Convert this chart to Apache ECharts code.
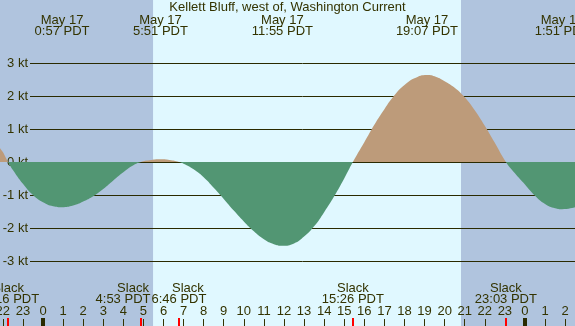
<!DOCTYPE html>
<html>
<head>
<meta charset="utf-8">
<title>Kellett Bluff, west of, Washington Current</title>
<script src="https://cdn.jsdelivr.net/npm/echarts@6/dist/echarts.min.js"></script>
<style>
  html, body { margin: 0; padding: 0; background: #b0c4de; }
  #chart { width: 575px; height: 326px; }
</style>
</head>
<body>
<div id="chart"></div>
<script>
// hours counted from midnight May 17 (negative = May 16, over 24 = May 18)
const hours = [-2.14, -2, -1.74, -1.5, -1, -0.5, 0, 0.5, 0.95, 1.5, 2, 2.5, 3, 3.5, 4, 4.5, 4.88,
  5.3, 5.85, 6.3, 6.77, 7, 7.5, 8, 8.5, 9, 9.5, 10, 10.5, 11, 11.5, 11.92, 12.5, 13, 13.5, 14, 14.5,
  15, 15.43, 16, 16.5, 17, 17.5, 18, 18.5, 19.12, 19.5, 20, 20.5, 21, 21.5, 22, 22.5, 23.05,
  23.5, 24, 24.5, 25, 25.5, 25.85, 26.5];
// current in knots (flood +, ebb -)
const knots = [0.42, 0.3, 0, -0.24, -0.66, -1.0, -1.22, -1.34, -1.37, -1.32, -1.2, -1.04, -0.82, -0.56, -0.31, -0.1, 0,
  0.05, 0.08, 0.06, 0, -0.05, -0.22, -0.46, -0.78, -1.12, -1.47, -1.8, -2.1, -2.34, -2.49, -2.54, -2.47, -2.26, -1.95, -1.52, -1.04,
  -0.5, 0, 0.6, 1.13, 1.6, 2.02, 2.33, 2.54, 2.64, 2.6, 2.45, 2.25, 1.96, 1.57, 1.1, 0.58, 0,
  -0.34, -0.68, -1.02, -1.27, -1.4, -1.43, -1.37];

// max / min current times
const peakHours = [0.95, 5.85, 11.92, 19.12, 25.85];
const peakDates = ['May 17', 'May 17', 'May 17', 'May 17', 'May 18'];
const peakTimes = ['0:57', '5:51', '11:55', '19:07', '1:51'];

// slack water
const slackHours = [-1.74, 4.88, 6.77, 15.43, 23.05];
const slackTimes = ['22:16', '4:53', '6:46', '15:26', '23:03'];

// midnights
const midnights = [0, 24];

// daylight: sunrise 5:29, sunset 20:49
const bands = [[-3, 5.48, 0], [5.48, 20.82, 1], [20.82, 27, 0]];

const nightColor = '#b0c4de';
const dayColor = '#e0f8ff';
const floodColor = '#bd9b7a';
const ebbColor = '#529673';
const textColor = '#333300';
const font = 'Liberation Sans, Arial, sans-serif';
const fontSize = 13;

const chart = echarts.init(document.getElementById('chart'));

function textEl(x, y, text) {
  return {
    type: 'text', x: x, y: y,
    style: { text: text, fill: textColor, fontFamily: font, fontSize: fontSize, align: 'center', verticalAlign: 'middle' }
  };
}

// label nudges so the 4:53 / 6:46 slack labels do not collide
const slackNudge = [[0, 0], [-8, -18], [9, 0], [0, 0], [0, 0]];

const option = {
  animation: false,
  title: {
    text: 'Kellett Bluff, west of, Washington Current',
    left: 'center', top: 1, padding: 0,
    textStyle: { color: textColor, fontFamily: font, fontSize: fontSize, fontWeight: 'normal' }
  },
  grid: [
    { left: -17.24, right: -10.2, top: -3, bottom: -1, outerBoundsMode: 'none' },
    { left: 30, right: 0, top: 63, bottom: 65, outerBoundsMode: 'none' }
  ],
  xAxis: [
    {
      type: 'value', gridIndex: 0, min: -3, max: 27, interval: 1, z: 3,
      axisLine: { show: false, onZero: false },
      splitLine: { show: false },
      axisTick: { show: true, inside: true, length: 8, lineStyle: { color: textColor } },
      axisLabel: {
        inside: true, margin: 9, color: textColor, fontFamily: font, fontSize: fontSize,
        formatter: function (v) { return String(((v % 24) + 24) % 24); }
      }
    },
    { type: 'value', gridIndex: 1, min: 0, max: 1, show: false }
  ],
  yAxis: [
    { type: 'value', gridIndex: 0, min: -5, max: 5, show: false },
    {
      type: 'value', gridIndex: 1, min: -3, max: 3, interval: 1, z: 1,
      axisLine: { show: false },
      axisTick: { show: false },
      splitLine: { show: true, lineStyle: { color: '#2a2a00', width: 1 } },
      axisLabel: { margin: 2, color: textColor, fontFamily: font, fontSize: fontSize, formatter: '{value} kt' }
    }
  ],
  series: [
    {
      // day / night background
      type: 'custom', z: 0, silent: true,
      xAxisIndex: 0, yAxisIndex: 0,
      data: bands,
      renderItem: function (params, api) {
        const x0 = api.coord([api.value(0), 0])[0];
        const x1 = api.coord([api.value(1), 0])[0];
        const cs = params.coordSys;
        return {
          type: 'rect',
          shape: { x: x0, y: cs.y, width: x1 - x0, height: cs.height },
          style: { fill: api.value(2) ? dayColor : nightColor }
        };
      }
    },
    {
      id: 'current',
      type: 'line', z: 2,
      xAxisIndex: 0, yAxisIndex: 0,
      data: hours.map(function (h, i) { return [h, knots[i]]; }),
      smooth: 0.5,
      symbol: 'none',
      lineStyle: { width: 0 },
      areaStyle: { opacity: 1, color: ebbColor }
    },
    {
      // midnight and slack ticks
      type: 'custom', z: 4, silent: true,
      xAxisIndex: 0, yAxisIndex: 0,
      data: midnights.map(function (h) { return [h, 0]; }).concat(slackHours.map(function (h) { return [h, 1]; })),
      renderItem: function (params, api) {
        const x = api.coord([api.value(0), 0])[0];
        const cs = params.coordSys;
        const red = api.value(1) === 1;
        const w = red ? 2 : 4;
        return {
          type: 'rect',
          shape: { x: Math.round(x - w / 2), y: cs.y + cs.height - 9, width: w, height: 9 },
          style: { fill: red ? '#ff0000' : '#2a2a00' }
        };
      }
    },
    {
      // max / min labels along the top
      type: 'custom', z: 5, silent: true,
      xAxisIndex: 0, yAxisIndex: 0,
      data: peakHours.map(function (h) { return [h, 0]; }),
      renderItem: function (params, api) {
        const i = params.dataIndex;
        const x = api.coord([api.value(0), 0])[0];
        return {
          type: 'group',
          children: [textEl(x, 20, peakDates[i]), textEl(x, 31.5, peakTimes[i] + ' PDT')]
        };
      }
    },
    {
      // slack labels along the bottom
      type: 'custom', z: 5, silent: true,
      xAxisIndex: 0, yAxisIndex: 0,
      data: slackHours.map(function (h) { return [h, 0]; }),
      renderItem: function (params, api) {
        const i = params.dataIndex;
        const x = api.coord([api.value(0), 0])[0];
        return {
          type: 'group',
          children: [
            textEl(x + slackNudge[i][0], 288, 'Slack'),
            textEl(x + slackNudge[i][1], 299.5, slackTimes[i] + ' PDT')
          ]
        };
      }
    }
  ]
};

chart.setOption(option);

// split the fill colour at the zero line: flood above, ebb below
const zeroY = chart.convertToPixel({ gridIndex: 0 }, [0, 0])[1];
chart.setOption({
  series: [{
    id: 'current',
    areaStyle: {
      color: new echarts.graphic.LinearGradient(0, zeroY - 1, 0, zeroY + 1, [
        { offset: 0, color: floodColor },
        { offset: 0.5, color: floodColor },
        { offset: 0.5, color: ebbColor },
        { offset: 1, color: ebbColor }
      ], true)
    }
  }]
});
</script>
</body>
</html>
